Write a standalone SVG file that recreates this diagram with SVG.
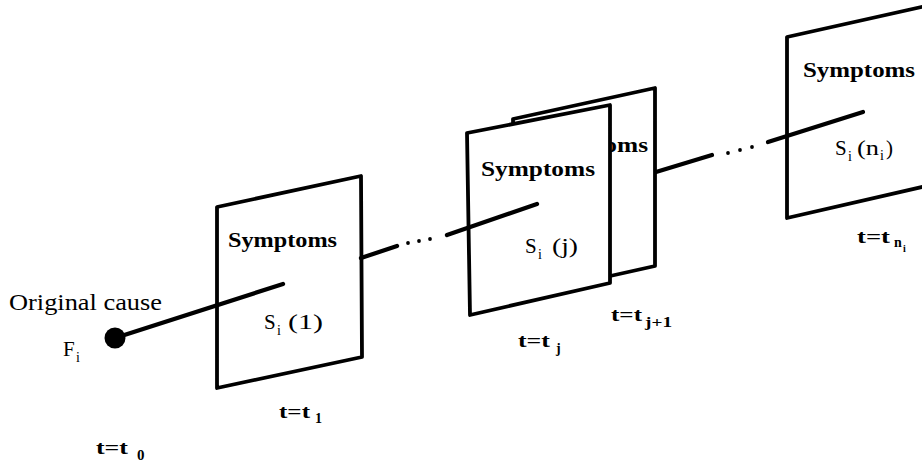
<svg xmlns="http://www.w3.org/2000/svg" width="922" height="463" viewBox="0 0 922 463">
<style>
.panel{fill:#fff;stroke:#000;stroke-width:3.8;stroke-linejoin:round}
.ln{stroke:#000;stroke-width:4.3;stroke-linecap:round;fill:none}
.dot{fill:#000}
text{font-family:"Liberation Serif","Times New Roman",serif;fill:#000}
.sym{font-size:20px;font-weight:bold}
.lbl{font-size:21px}
.t{font-size:19px;font-weight:bold}
.sub{font-size:14px}
.tsub{font-size:14px;font-weight:bold}
</style>
<rect width="922" height="463" fill="#fff"/>
<g id="cause">
<circle cx="115" cy="338" r="10.5" class="dot"/>
<text x="9" y="310" style="font-size:23px" textLength="153" lengthAdjust="spacingAndGlyphs">Original cause</text>
<text x="63" y="356" class="lbl">F</text>
<text x="76" y="362" class="sub">i</text>
<text x="96" y="454" class="t" textLength="32" lengthAdjust="spacingAndGlyphs">t=t</text>
<text x="137" y="460" class="tsub" style="font-size:15px">0</text>
</g>
<g id="panel1">
<polygon class="panel" points="217,207 361,176 362,357 217,388"/>
<text x="228" y="247" class="sym" textLength="109" lengthAdjust="spacingAndGlyphs">Symptoms</text>
<text x="264" y="329" class="lbl">S</text>
<text x="277" y="335" class="sub">i</text>
<text x="288" y="329" class="lbl" textLength="35" lengthAdjust="spacingAndGlyphs">(1)</text>
<text x="279" y="418" class="t" textLength="31" lengthAdjust="spacingAndGlyphs">t=t</text>
<text x="315" y="423" class="tsub">1</text>
</g>
<g id="panelj1">
<polygon class="panel" points="513,119 655,88 655,266 516,297"/>
<text x="534" y="152" class="sym" textLength="114" lengthAdjust="spacingAndGlyphs">Symptoms</text>
<text x="611" y="321" class="t" textLength="31" lengthAdjust="spacingAndGlyphs">t=t</text>
<text x="645" y="327" class="tsub" textLength="27" lengthAdjust="spacingAndGlyphs">j+1</text>
</g>
<g id="panelj">
<polygon class="panel" points="467,133 610,105 610,283 470,315"/>
<text x="481" y="176" class="sym" textLength="114" lengthAdjust="spacingAndGlyphs">Symptoms</text>
<text x="525" y="253" class="lbl">S</text>
<text x="538" y="259" class="sub">i</text>
<text x="552" y="253" class="lbl" textLength="26" lengthAdjust="spacingAndGlyphs">(j)</text>
<text x="518" y="347" class="t" textLength="32" lengthAdjust="spacingAndGlyphs">t=t</text>
<text x="556" y="353" class="tsub">j</text>
</g>
<g id="paneln">
<polygon class="panel" points="787,37 935,4 935,184 787,218"/>
<text x="803" y="77" class="sym" textLength="112" lengthAdjust="spacingAndGlyphs">Symptoms</text>
<text x="835" y="155" class="lbl">S</text>
<text x="848" y="161" class="sub">i</text>
<text x="857" y="155" class="lbl" textLength="22" lengthAdjust="spacingAndGlyphs">(n</text>
<text x="880" y="160" class="sub">i</text>
<text x="886" y="155" class="lbl">)</text>
<text x="857" y="243" class="t" textLength="33" lengthAdjust="spacingAndGlyphs">t=t</text>
<text x="894" y="247" class="tsub">n</text>
<text x="903" y="252" style="font-size:10px;font-weight:bold">i</text>
</g>
<g id="connectors">
<line class="ln" x1="115" y1="338" x2="283" y2="284"/>
<line class="ln" x1="361" y1="258" x2="397" y2="246"/>
<circle class="dot" cx="408" cy="243" r="1.9"/>
<circle class="dot" cx="419" cy="241" r="1.9"/>
<circle class="dot" cx="430" cy="239" r="1.9"/>
<line class="ln" x1="447" y1="235" x2="537" y2="204"/>
<line class="ln" x1="656" y1="172" x2="712" y2="155"/>
<circle class="dot" cx="728" cy="153" r="1.9"/>
<circle class="dot" cx="740" cy="150" r="1.9"/>
<circle class="dot" cx="752" cy="147" r="1.9"/>
<line class="ln" x1="768" y1="142" x2="863" y2="112"/>
</g>
</svg>
